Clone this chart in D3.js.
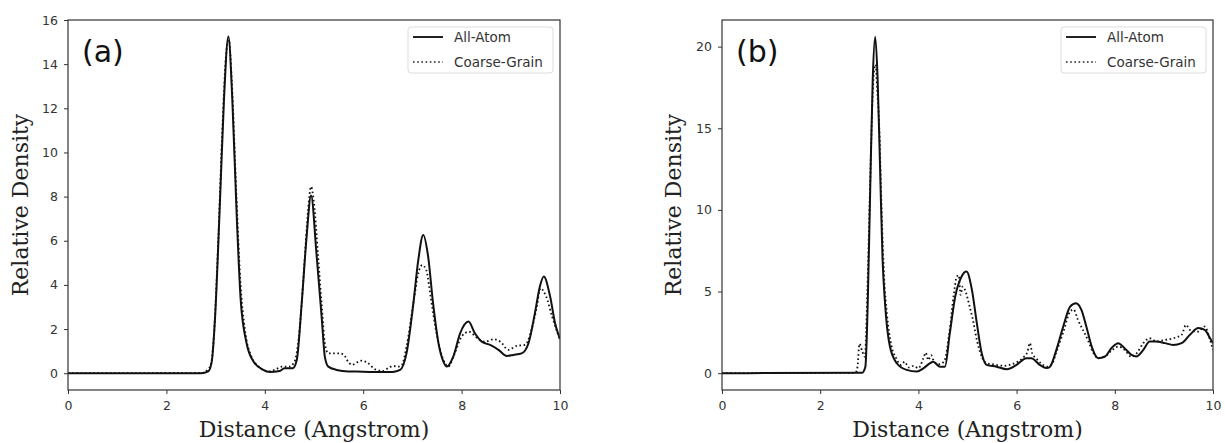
<!DOCTYPE html>
<html>
<head>
<meta charset="utf-8">
<script src="https://cdn.jsdelivr.net/npm/d3@7"></script>
<style>
  body { margin: 0; background: #fff; }
  svg { display: block; }
  .tick text { font-family: "DejaVu Sans", sans-serif; font-size: 12.5px; fill: #333; }
  .tick line { stroke: #333; }
  .axislabel { font-family: "DejaVu Serif", serif; font-size: 22px; fill: #222; }
  .legend text { font-family: "DejaVu Sans", sans-serif; font-size: 13.5px; fill: #333; }
</style>
</head>
<body>
<script>
// tick values
var xTicks = [0, 2, 4, 6, 8, 10];
var aYTicks = [0, 2, 4, 6, 8, 10, 12, 14, 16];
var bYTicks = [0, 5, 10, 15, 20];
var seriesNames = ["All-Atom", "Coarse-Grain"];

// panel (a): [distance, density]
var aAllAtom = [[0,0],[2.7,0],[2.85,0.08],[2.92,0.5],[2.99,2.56],[3.09,7.85],[3.17,12.38],[3.26,15.25],
  [3.34,12.38],[3.43,7.09],[3.51,3.32],[3.63,1.36],[3.77,0.53],[3.97,0.15],[4.1,0.05],[4.3,0.1],
  [4.4,0.22],[4.57,0.23],[4.65,0.6],[4.75,3.17],[4.85,6.19],[4.94,8.05],[5.05,5.43],[5.16,2.41],
  [5.22,0.75],[5.29,0.3],[5.46,0.15],[5.7,0.08],[6.0,0.07],[6.3,0.05],[6.6,0.06],[6.75,0.15],
  [6.88,0.9],[7.02,3.17],[7.12,5.13],[7.22,6.26],[7.32,5.28],[7.42,3.17],[7.53,1.36],[7.63,0.53],
  [7.7,0.3],[7.83,0.75],[7.97,1.81],[8.14,2.34],[8.27,1.81],[8.41,1.43],[8.58,1.28],[8.75,1.06],
  [8.92,0.78],[9.05,0.83],[9.22,0.9],[9.36,1.36],[9.49,2.72],[9.59,3.92],[9.67,4.38],[9.8,3.47],
  [9.9,2.26],[10,1.55]];
var aCoarse = [[0,0],[2.75,0.02],[2.85,0.2],[2.9,0.35],[2.96,1.5],[3.05,5.8],[3.14,11.2],[3.22,14.6],
  [3.27,15.1],[3.33,13.2],[3.42,8.2],[3.5,4.3],[3.6,1.9],[3.72,0.8],[3.9,0.25],[4.05,0.08],[4.2,0.15],
  [4.35,0.3],[4.5,0.3],[4.6,0.5],[4.7,1.8],[4.8,4.8],[4.88,7.4],[4.94,8.45],[5.0,7.7],[5.08,5.4],
  [5.16,3.0],[5.22,1.36],[5.29,0.9],[5.4,0.9],[5.5,0.9],[5.6,0.85],[5.7,0.5],[5.77,0.38],[5.88,0.5],
  [5.97,0.57],[6.1,0.45],[6.24,0.18],[6.4,0.1],[6.52,0.25],[6.61,0.33],[6.7,0.3],[6.78,0.35],
  [6.88,1.2],[7.02,3.17],[7.12,4.53],[7.2,4.9],[7.28,4.68],[7.38,3.32],[7.49,1.81],[7.63,0.6],
  [7.73,0.3],[7.86,0.9],[8.0,1.66],[8.15,1.88],[8.32,1.58],[8.48,1.43],[8.65,1.54],[8.79,1.43],
  [8.95,1.06],[9.12,1.24],[9.29,1.28],[9.42,1.96],[9.53,3.02],[9.6,3.85],[9.72,3.47],[9.84,2.57],
  [10,1.5]];

// panel (b)
var bAllAtom = [[0,0],[2.85,0.02],[2.92,0.4],[2.97,4.5],[3.02,11.5],[3.07,18.0],[3.12,20.6],[3.17,18.0],
  [3.22,12.5],[3.27,7.0],[3.32,4.29],[3.42,1.63],[3.56,0.61],[3.76,0.2],[3.97,0.1],[4.1,0.3],
  [4.24,0.61],[4.3,0.7],[4.44,0.4],[4.54,0.4],[4.64,2.45],[4.75,4.69],[4.88,5.92],[4.98,6.22],
  [5.09,5.1],[5.19,3.06],[5.29,1.22],[5.39,0.51],[5.59,0.4],[5.8,0.24],[6.0,0.51],[6.2,0.92],
  [6.3,0.92],[6.47,0.51],[6.61,0.31],[6.68,0.4],[6.81,1.43],[6.95,2.86],[7.09,4.08],[7.21,4.29],
  [7.32,3.88],[7.42,2.86],[7.53,1.63],[7.66,0.92],[7.8,1.02],[7.93,1.53],[8.07,1.84],[8.2,1.53],
  [8.34,1.12],[8.44,1.02],[8.58,1.43],[8.71,1.94],[8.85,1.94],[9.02,1.84],[9.19,1.73],[9.36,1.84],
  [9.53,2.35],[9.7,2.76],[9.83,2.65],[9.94,2.14],[10,1.84]];
var bCoarse = [[0,0],[2.72,0.02],[2.76,0.4],[2.8,1.8],[2.86,1.3],[2.91,1.0],[2.96,5.0],[3.02,12.0],
  [3.07,17.2],[3.1,18.6],[3.13,18.9],[3.16,17.4],[3.2,15.3],[3.25,10.0],[3.3,6.0],[3.36,3.6],
  [3.45,1.7],[3.55,0.9],[3.65,0.5],[3.72,0.7],[3.8,0.35],[3.9,0.45],[4.0,0.3],[4.1,0.9],[4.15,1.25],
  [4.2,0.8],[4.26,1.1],[4.32,0.7],[4.42,0.55],[4.52,0.7],[4.64,2.7],[4.72,4.8],[4.78,5.9],[4.82,6.0],
  [4.86,4.8],[4.9,5.3],[4.95,5.1],[5.0,4.6],[5.05,4.0],[5.1,3.4],[5.19,2.04],[5.29,1.0],[5.4,0.6],
  [5.5,0.55],[5.6,0.5],[5.75,0.45],[5.9,0.55],[6.05,0.75],[6.15,1.0],[6.22,1.3],[6.27,1.84],
  [6.32,1.2],[6.4,0.9],[6.5,0.6],[6.62,0.4],[6.72,0.55],[6.81,1.3],[6.95,2.5],[7.09,3.77],[7.16,3.9],
  [7.25,3.26],[7.35,2.65],[7.45,2.04],[7.55,1.32],[7.66,0.92],[7.8,1.02],[7.95,1.43],[8.07,1.63],
  [8.2,1.43],[8.34,1.0],[8.44,1.2],[8.58,1.84],[8.71,2.14],[8.85,1.94],[9.02,2.04],[9.19,2.14],
  [9.36,2.35],[9.45,2.96],[9.53,2.65],[9.7,2.55],[9.83,2.86],[9.94,2.04],[10,1.43]];

var width = 1225, height = 443;

var svg = d3.select("body").append("svg")
  .attr("width", width)
  .attr("height", height);

// the two panels
var panels = [
  {id: "a", label: "(a)", left: 68, right: 560, yDomain: [-0.76, 16], yTicks: aYTicks,
   atom: aAllAtom, coarse: aCoarse, yLabelX: 28},
  {id: "b", label: "(b)", left: 722, right: 1213, yDomain: [-1.03, 21.63], yTicks: bYTicks,
   atom: bAllAtom, coarse: bCoarse, yLabelX: 681}
];
var plotTop = 20, plotBottom = 390;

panels.forEach(function(p) {

  var x = d3.scaleLinear().domain([0, 10]).range([p.left, p.right]);
  var y = d3.scaleLinear().domain(p.yDomain).range([plotBottom, plotTop]);

  // clip lines to the axes box
  svg.append("clipPath").attr("id", "clip-" + p.id)
    .append("rect")
    .attr("x", p.left).attr("y", plotTop)
    .attr("width", p.right - p.left).attr("height", plotBottom - plotTop);

  var line = d3.line()
    .x(function(d) { return x(d[0]); })
    .y(function(d) { return y(d[1]); })
    .curve(d3.curveMonotoneX);

  var g = svg.append("g").attr("clip-path", "url(#clip-" + p.id + ")");

  g.append("path")
    .datum(p.coarse)
    .attr("d", line)
    .attr("fill", "none")
    .attr("stroke", "#111")
    .attr("stroke-width", 1.8)
    .attr("stroke-dasharray", "1.6,2.6");

  g.append("path")
    .datum(p.atom)
    .attr("d", line)
    .attr("fill", "none")
    .attr("stroke", "#111")
    .attr("stroke-width", 2);

  // axes
  svg.append("g")
    .attr("transform", "translate(0," + plotBottom + ")")
    .call(d3.axisBottom(x).tickValues(xTicks).tickSize(4).tickPadding(7).tickFormat(d3.format("d")))
    .call(function(s) { s.select(".domain").remove(); });

  svg.append("g")
    .attr("transform", "translate(" + p.left + ",0)")
    .call(d3.axisLeft(y).tickValues(p.yTicks).tickSize(4).tickPadding(6).tickFormat(d3.format("d")))
    .call(function(s) { s.select(".domain").remove(); });

  // frame
  svg.append("rect")
    .attr("x", p.left).attr("y", plotTop)
    .attr("width", p.right - p.left).attr("height", plotBottom - plotTop)
    .attr("fill", "none")
    .attr("stroke", "#333")
    .attr("stroke-width", 1.2);

  // axis labels
  svg.append("text")
    .attr("class", "axislabel")
    .attr("x", (p.left + p.right) / 2)
    .attr("y", 437)
    .attr("text-anchor", "middle")
    .text("Distance (Angstrom)");

  svg.append("text")
    .attr("class", "axislabel")
    .attr("transform", "translate(" + p.yLabelX + "," + ((plotTop + plotBottom) / 2) + ") rotate(-90)")
    .attr("text-anchor", "middle")
    .text("Relative Density");

  // panel letter
  svg.append("text")
    .attr("x", p.left + 14)
    .attr("y", 62)
    .style("font-family", "DejaVu Sans, sans-serif")
    .style("font-size", "30px")
    .style("fill", "#111")
    .text(p.label);

  // legend
  var legend = svg.append("g")
    .attr("class", "legend")
    .attr("transform", "translate(" + (p.right - 152) + "," + (plotTop + 7) + ")");

  legend.append("rect")
    .attr("x", 0).attr("y", 0)
    .attr("width", 145).attr("height", 46)
    .attr("rx", 3)
    .attr("fill", "#fff")
    .attr("stroke", "#ddd");

  seriesNames.forEach(function(name, i) {
    var ly = 10 + i * 25;
    legend.append("line")
      .attr("x1", 5).attr("x2", 35)
      .attr("y1", ly).attr("y2", ly)
      .attr("stroke", "#222")
      .attr("stroke-width", i == 0 ? 2 : 1.6)
      .attr("stroke-dasharray", i == 0 ? null : "1.6,2.6");
    legend.append("text")
      .attr("x", 46)
      .attr("y", ly + 5)
      .text(name);
  });
});
</script>
</body>
</html>
